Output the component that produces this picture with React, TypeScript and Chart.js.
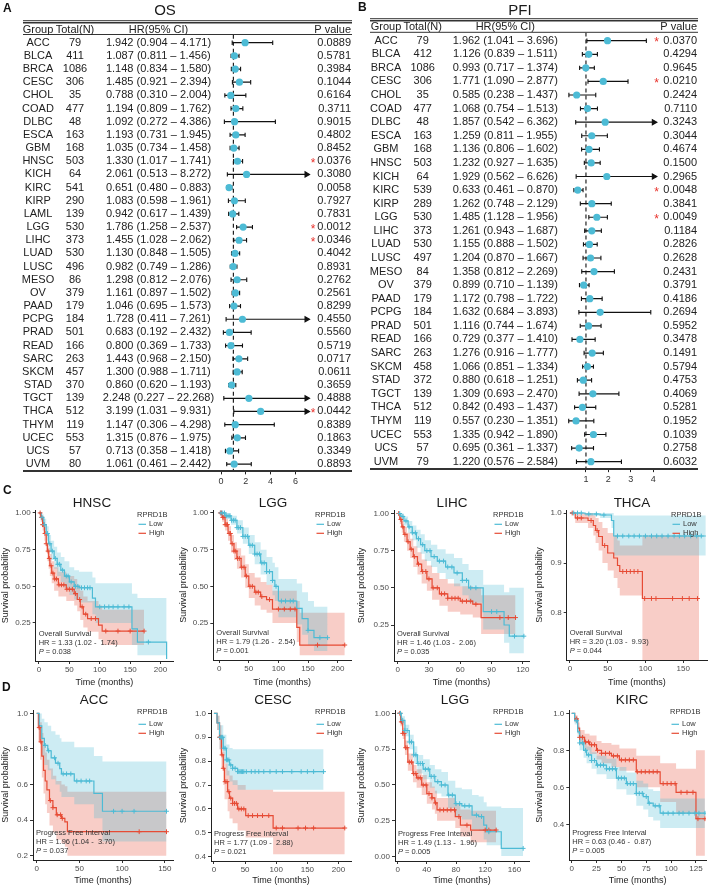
import React, { useEffect, useRef } from 'react';
import { Chart, registerables } from 'chart.js';
Chart.register(...registerables);

const FONT = '"Liberation Sans", Arial, Helvetica, sans-serif';
Chart.defaults.font.family = FONT;

// ---------------- Forest data: OS ----------------
const OS_GROUPS = ['ACC','BLCA','BRCA','CESC','CHOL','COAD','DLBC','ESCA','GBM','HNSC','KICH','KIRC','KIRP','LAML','LGG','LIHC','LUAD','LUSC','MESO','OV','PAAD','PCPG','PRAD','READ','SARC','SKCM','STAD','TGCT','THCA','THYM','UCEC','UCS','UVM'];
const OS_N = [79,411,1086,306,35,477,48,163,168,503,64,541,290,139,530,373,530,496,86,379,179,184,501,166,263,457,370,139,512,119,553,57,80];
const OS_HR = [1.942,1.087,1.148,1.485,0.788,1.194,1.092,1.193,1.035,1.330,2.061,0.651,1.083,0.942,1.786,1.455,1.130,0.982,1.298,1.161,1.046,1.728,0.683,0.800,1.443,1.300,0.860,2.248,3.199,1.147,1.315,0.713,1.061];
const OS_LO = [0.904,0.811,0.834,0.921,0.310,0.809,0.272,0.731,0.734,1.017,0.513,0.480,0.598,0.617,1.258,1.028,0.848,0.749,0.812,0.897,0.695,0.411,0.192,0.369,0.968,0.988,0.620,0.227,1.031,0.306,0.876,0.358,0.461];
const OS_HI = [4.171,1.456,1.580,2.394,2.004,1.762,4.386,1.945,1.458,1.741,8.272,0.883,1.961,1.439,2.537,2.062,1.505,1.286,2.076,1.502,1.573,7.261,2.432,1.733,2.150,1.711,1.193,22.268,9.931,4.298,1.975,1.418,2.442];
const OS_P = [0.0889,0.5781,0.3984,0.1044,0.6164,0.3711,0.9015,0.4802,0.8452,0.0376,0.3080,0.0058,0.7927,0.7831,0.0012,0.0346,0.4042,0.8931,0.2762,0.2561,0.8299,0.4550,0.5560,0.5719,0.0717,0.0611,0.3659,0.4888,0.0442,0.8389,0.1863,0.3349,0.8893];
const OS_STAR = ['HNSC','LGG','LIHC','THCA'];
const OS_XTICKS = [0, 2, 4, 6];

// ---------------- Forest data: PFI ----------------
const PFI_GROUPS = ['ACC','BLCA','BRCA','CESC','CHOL','COAD','DLBC','ESCA','GBM','HNSC','KICH','KIRC','KIRP','LGG','LIHC','LUAD','LUSC','MESO','OV','PAAD','PCPG','PRAD','READ','SARC','SKCM','STAD','TGCT','THCA','THYM','UCEC','UCS','UVM'];
const PFI_N = [79,412,1086,306,35,477,48,163,168,503,64,539,289,530,373,530,497,84,379,179,184,501,166,263,458,372,139,512,119,553,57,79];
const PFI_HR = [1.962,1.126,0.993,1.771,0.585,1.068,1.857,1.259,1.136,1.232,1.929,0.633,1.262,1.485,1.261,1.155,1.204,1.358,0.899,1.172,1.632,1.116,0.729,1.276,1.066,0.880,1.309,0.842,0.557,1.335,0.695,1.220];
const PFI_LO = [1.041,0.839,0.717,1.090,0.238,0.754,0.542,0.811,0.806,0.927,0.562,0.461,0.748,1.128,0.943,0.888,0.870,0.812,0.710,0.798,0.684,0.744,0.377,0.916,0.851,0.618,0.693,0.493,0.230,0.942,0.361,0.576];
const PFI_HI = [3.696,1.511,1.374,2.877,1.437,1.513,6.362,1.955,1.602,1.635,6.626,0.870,2.129,1.956,1.687,1.502,1.667,2.269,1.139,1.722,3.893,1.674,1.410,1.777,1.334,1.251,2.470,1.437,1.351,1.890,1.337,2.584];
const PFI_P = [0.0370,0.4294,0.9645,0.0210,0.2424,0.7110,0.3243,0.3044,0.4674,0.1500,0.2965,0.0048,0.3841,0.0049,0.1184,0.2826,0.2628,0.2431,0.3791,0.4186,0.2694,0.5952,0.3478,0.1491,0.5794,0.4753,0.4069,0.5281,0.1952,0.1039,0.2758,0.6032];
const PFI_STAR = ['ACC','CESC','KIRC','LGG'];
const PFI_XTICKS = [1, 2, 3, 4];

// ---------------- KM data: rows [time, survival, lower, upper] ----------------
const HNSC_LOW = [[0,1,1,1],[4,0.97,0.94,0.99],[8,0.92,0.88,0.96],[12,0.86,0.81,0.91],[16,0.79,0.73,0.85],[20,0.74,0.68,0.81],[25,0.69,0.62,0.77],[30,0.65,0.57,0.73],[36,0.61,0.53,0.70],[42,0.57,0.49,0.67],[50,0.53,0.44,0.63],[58,0.50,0.41,0.61],[66,0.49,0.39,0.60],[88,0.42,0.31,0.56],[93,0.36,0.25,0.52],[153,0.21,0.10,0.45],[162,0.12,0.03,0.42],[209,0.12,0.03,0.42],[210,0.005,0.0,0.42]];
const HNSC_HIGH = [[0,1,1,1],[3,0.97,0.94,0.99],[6,0.92,0.88,0.96],[9,0.86,0.81,0.91],[12,0.79,0.73,0.85],[14,0.74,0.67,0.80],[16,0.69,0.62,0.76],[18,0.64,0.57,0.72],[21,0.59,0.52,0.67],[25,0.55,0.47,0.63],[32,0.51,0.43,0.60],[45,0.48,0.40,0.57],[58,0.45,0.37,0.55],[63,0.41,0.33,0.51],[68,0.36,0.27,0.47],[73,0.31,0.22,0.43],[80,0.28,0.19,0.40],[98,0.235,0.14,0.37],[104,0.195,0.10,0.34],[173,0.195,0.10,0.34]];
const HNSC_LOW_CENS = [5,9,14,18,22,27,31,34,39,45,48,53,60,64,70,75,80,84,100,108,115,122,130,140,148,180];
const HNSC_HIGH_CENS = [2,4,6,8,10,12,15,17,20,23,26,29,33,37,41,46,50,55,60,67,71,77,86,93,110,130,150,173];

const LGGOS_LOW = [[0,1,1,1],[10,0.98,0.96,1],[20,0.95,0.92,0.98],[30,0.90,0.86,0.95],[40,0.84,0.79,0.90],[50,0.78,0.72,0.85],[60,0.72,0.65,0.80],[70,0.66,0.58,0.75],[80,0.60,0.51,0.70],[90,0.54,0.44,0.66],[94,0.50,0.40,0.63],[100,0.40,0.29,0.55],[131,0.35,0.24,0.52],[140,0.28,0.17,0.46],[150,0.20,0.10,0.40],[160,0.15,0.06,0.36],[183,0.15,0.06,0.36]];
const LGGOS_HIGH = [[0,1,1,1],[5,0.97,0.94,0.99],[10,0.92,0.88,0.96],[15,0.86,0.81,0.91],[20,0.79,0.73,0.85],[25,0.74,0.68,0.80],[30,0.69,0.62,0.76],[37,0.63,0.56,0.71],[44,0.57,0.49,0.65],[50,0.50,0.42,0.59],[60,0.46,0.37,0.56],[70,0.43,0.34,0.53],[80,0.41,0.32,0.51],[90,0.345,0.25,0.47],[131,0.22,0.12,0.40],[136,0.10,0.03,0.32],[212,0.10,0.03,0.32]];
const LGGOS_LOW_CENS = [3,6,9,12,15,18,21,24,27,30,33,36,40,44,48,52,56,60,64,68,72,76,80,85,90,96,105,112,120,125,150,170,183];
const LGGOS_HIGH_CENS = [2,4,6,8,10,12,14,17,19,22,25,28,31,34,38,42,46,52,56,62,66,72,85,100,110,120,128,166,212];

const LIHC_LOW = [[0,1,1,1],[3,0.98,0.96,1],[6,0.95,0.92,0.98],[10,0.91,0.87,0.95],[14,0.87,0.82,0.92],[18,0.83,0.77,0.89],[22,0.79,0.73,0.86],[26,0.75,0.68,0.82],[32,0.71,0.64,0.79],[38,0.68,0.60,0.76],[46,0.64,0.56,0.73],[54,0.60,0.51,0.70],[62,0.55,0.45,0.66],[68,0.50,0.40,0.62],[82,0.34,0.22,0.52],[102,0.25,0.13,0.47],[107,0.175,0.06,0.50],[121,0.175,0.06,0.50]];
const LIHC_HIGH = [[0,1,1,1],[2,0.96,0.93,0.99],[4,0.91,0.87,0.95],[6,0.86,0.81,0.91],[9,0.81,0.75,0.87],[12,0.76,0.70,0.83],[15,0.71,0.64,0.78],[19,0.66,0.59,0.74],[23,0.61,0.53,0.69],[28,0.56,0.48,0.65],[33,0.50,0.42,0.60],[40,0.46,0.38,0.56],[48,0.43,0.34,0.53],[60,0.41,0.32,0.51],[72,0.39,0.30,0.50],[80,0.30,0.19,0.45],[113,0.30,0.19,0.45]];
const LIHC_LOW_CENS = [2,5,8,11,14,17,20,24,28,31,35,40,44,48,52,57,62,66,70,75,90,95,112,121];
const LIHC_HIGH_CENS = [1,3,5,7,10,13,16,20,24,27,30,34,38,42,45,48,52,55,58,62,66,70,75,98,106,113];

const THCA_LOW = [[0,1,1,1],[20,0.998,0.994,1],[40,0.996,0.99,1],[55,0.985,0.97,1],[58,0.954,0.915,0.995],[180,0.954,0.913,0.995]];
const THCA_HIGH = [[0,1,1,1],[7,0.99,0.98,1],[24,0.985,0.97,1],[31,0.975,0.955,0.995],[34,0.965,0.94,0.99],[38,0.953,0.925,0.982],[43,0.935,0.90,0.97],[50,0.92,0.885,0.96],[58,0.91,0.87,0.955],[63,0.895,0.85,0.945],[66,0.883,0.835,0.935],[96,0.829,0.65,0.955],[171,0.829,0.65,0.955]];
const THCA_LOW_CENS = [5,10,15,25,35,45,63,70,78,85,92,100,108,115,122,130,138,145,152,160,168,174];
const THCA_HIGH_CENS = [3,10,15,28,36,46,70,75,80,85,90,99,108,114,136,149,158,169];

const ACC_LOW = [[0,1,1,1],[3,0.93,0.85,1],[6,0.86,0.76,0.97],[9,0.82,0.71,0.95],[13,0.79,0.68,0.93],[17,0.75,0.63,0.90],[22,0.72,0.60,0.88],[27,0.69,0.56,0.86],[29,0.66,0.53,0.84],[44,0.62,0.49,0.81],[67,0.55,0.41,0.76],[77,0.45,0.28,0.73],[152,0.45,0.28,0.73]];
const ACC_HIGH = [[0,1,1,1],[2,0.92,0.84,1],[4,0.84,0.74,0.95],[6,0.76,0.64,0.89],[8,0.68,0.55,0.83],[10,0.62,0.49,0.78],[12,0.57,0.44,0.74],[15,0.51,0.37,0.69],[19,0.47,0.33,0.65],[23,0.43,0.29,0.62],[29,0.41,0.27,0.60],[33,0.39,0.25,0.59],[36,0.335,0.20,0.56],[152,0.335,0.20,0.56]];
const ACC_LOW_CENS = [10,14,21,25,31,35,40,47,52,58,62,90,100,114,152];
const ACC_HIGH_CENS = [3,5,16,19,24,28,30,120,152];

const CESC_LOW = [[0,1,1,1],[5,0.96,0.93,0.99],[9,0.90,0.85,0.95],[15,0.854,0.79,0.91],[20,0.805,0.74,0.87],[25,0.784,0.715,0.855],[30,0.77,0.70,0.85],[38,0.756,0.68,0.85],[176,0.756,0.67,0.85]];
const CESC_HIGH = [[0,1,1,1],[5,0.96,0.93,0.99],[9,0.90,0.85,0.95],[12,0.826,0.77,0.89],[15,0.77,0.70,0.84],[17,0.714,0.64,0.79],[22,0.672,0.59,0.76],[25,0.645,0.56,0.74],[30,0.623,0.54,0.72],[38,0.60,0.51,0.70],[51,0.572,0.48,0.68],[95,0.52,0.41,0.672],[210,0.52,0.41,0.672]];
const CESC_LOW_CENS = [10,12,14,16,18,20,22,24,27,30,34,38,40,42,44,46,48,52,60,66,72,80,90,100,110,125,140,150,160,176];
const CESC_HIGH_CENS = [9,11,13,15,18,21,24,27,30,33,36,40,44,48,55,62,70,78,88,100,110,135,147,160,210];

const LGGPFI_LOW = [[0,1,1,1],[5,0.95,0.92,0.98],[10,0.88,0.84,0.92],[16,0.80,0.75,0.85],[22,0.71,0.65,0.77],[27,0.65,0.58,0.71],[35,0.61,0.54,0.68],[44,0.56,0.48,0.64],[51,0.523,0.44,0.61],[60,0.50,0.42,0.59],[69,0.43,0.34,0.53],[79,0.37,0.28,0.48],[88,0.355,0.26,0.47],[102,0.29,0.19,0.43],[111,0.28,0.18,0.42],[118,0.22,0.12,0.38],[122,0.174,0.08,0.35],[142,0.058,0.005,0.34],[172,0.058,0.005,0.34]];
const LGGPFI_HIGH = [[0,1,1,1],[4,0.94,0.91,0.97],[7,0.86,0.82,0.90],[10,0.76,0.71,0.81],[14,0.66,0.60,0.72],[21,0.58,0.52,0.64],[26,0.55,0.48,0.61],[33,0.50,0.43,0.57],[40,0.44,0.37,0.52],[47,0.41,0.33,0.49],[51,0.375,0.30,0.46],[54,0.326,0.25,0.41],[79,0.28,0.20,0.37],[86,0.22,0.14,0.33],[100,0.186,0.10,0.32],[135,0.186,0.10,0.32]];
const LGGPFI_LOW_CENS = [4,7,10,13,16,19,22,25,28,31,34,38,42,46,50,55,60,65,70,75,80,85,92,98,108,115,125,172];
const LGGPFI_HIGH_CENS = [3,5,7,9,11,13,16,19,22,25,28,31,35,39,43,47,52,58,63,68,73,78,84,95,120,125,135];

const KIRC_LOW = [[0,1,1,1],[3,0.96,0.94,0.98],[6,0.90,0.87,0.93],[8,0.84,0.80,0.88],[12,0.80,0.76,0.84],[15,0.775,0.73,0.82],[20,0.745,0.70,0.79],[25,0.72,0.67,0.77],[35,0.70,0.645,0.755],[45,0.65,0.59,0.71],[55,0.62,0.56,0.68],[65,0.567,0.50,0.635],[72,0.55,0.48,0.62],[77,0.514,0.44,0.59],[82,0.50,0.42,0.58],[89,0.46,0.38,0.54],[134,0.46,0.37,0.54]];
const KIRC_HIGH = [[0,1,1,1],[3,0.97,0.95,0.99],[6,0.92,0.89,0.95],[8,0.87,0.83,0.91],[13,0.845,0.80,0.89],[18,0.83,0.78,0.88],[25,0.80,0.75,0.85],[30,0.784,0.73,0.84],[40,0.77,0.71,0.83],[48,0.748,0.69,0.81],[65,0.684,0.60,0.77],[89,0.62,0.52,0.73],[105,0.573,0.46,0.70],[125,0.43,0.23,0.80],[134,0.43,0.23,0.80]];
const KIRC_LOW_CENS = [5,8,11,14,17,20,23,26,29,32,35,38,41,44,47,50,53,56,59,62,65,68,71,75,78,84,88,92,97,102,108,112,118,124,128,134];
const KIRC_HIGH_CENS = [5,8,11,14,17,20,23,26,30,34,38,42,46,50,54,58,62,66,70,74,78,82,86,92,96,100,104,110,116,122,127,134];

const KM_TEXT = [
  { title: 'HNSC', endpoint: 'Overall Survival', hr: 'HR = 1.33 (1.02 -  1.74)', p: '0.038' },
  { title: 'LGG', endpoint: 'Overall Survival', hr: 'HR = 1.79 (1.26 -  2.54)', p: '0.001' },
  { title: 'LIHC', endpoint: 'Overall Survival', hr: 'HR = 1.46 (1.03 -  2.06)', p: '0.035' },
  { title: 'THCA', endpoint: 'Overall Survival', hr: 'HR = 3.20 (1.03 -  9.93)', p: '0.044' },
  { title: 'ACC', endpoint: 'Progress Free Interval', hr: 'HR = 1.96 (1.04 -  3.70)', p: '0.037' },
  { title: 'CESC', endpoint: 'Progress Free Interval', hr: 'HR = 1.77 (1.09 -  2.88)', p: '0.021' },
  { title: 'LGG', endpoint: 'Progress Free Interval', hr: 'HR = 1.49 (1.13 -  1.96)', p: '0.005' },
  { title: 'KIRC', endpoint: 'Progress Free Interval', hr: 'HR = 0.63 (0.46 -  0.87)', p: '0.005' },
];
const KM_XTICKS = [[0,50,100,150,200],[0,50,100,150,200],[0,30,60,90,120],[0,50,100,150],[0,50,100,150],[0,50,100,150,200],[0,40,80,120,160],[0,25,50,75,100,125]];
const KM_YTICKS = [[0.25,0.5,0.75,1],[0.25,0.5,0.75,1],[0.25,0.5,0.75,1],[0.8,0.9,1],[0.2,0.4,0.6,0.8,1],[0.4,0.5,0.6,0.7,0.8,0.9,1],[0,0.25,0.5,0.75,1],[0.4,0.6,0.8,1]];
const KM_YDEC = [2,2,2,1,1,1,2,1];
const LEGEND_TITLE = 'RPRD1B';
const LEGEND_LABELS = ['Low', 'High'];

const BLUE = '#4DBBD5';
const RED = '#E64B35';
const BLUE_BAND = 'rgba(77,187,213,0.28)';
const RED_BAND = 'rgba(230,75,53,0.28)';

// ---------------- layout (page px) ----------------
const KM_LAYOUT = [
  { pos: [0, 490], area: [35.7, 175.7, 510, 661], x: [-5.3, 220.5], y: [-0.009, 1.02], titleX: 92, titleY: 503, legY: [515, 524.3, 533.3] },
  { pos: [178, 490], area: [213.3, 353.6, 510, 660], x: [-9.9, 222.5], y: [-0.002, 1.02], titleX: 273, titleY: 503, legY: [515, 524.3, 533.3] },
  { pos: [356, 490], area: [394, 532, 510, 661], x: [-3.5, 125.9], y: [0.008, 1.0235], titleX: 452, titleY: 503, legY: [515, 524.3, 533.3] },
  { pos: [534, 490], area: [566.7, 708, 510, 660], x: [-4.3, 181.6], y: [0.706, 1.006], titleX: 632, titleY: 503, legY: [515, 524.3, 533.3] },
  { pos: [0, 688], area: [33, 175, 710, 860], x: [-4.3, 159.6], y: [0.176, 1.019], titleX: 94, titleY: 700, legY: [711.7, 724.3, 733.3] },
  { pos: [178, 688], area: [211, 354.5, 710, 861], x: [-4.7, 220], y: [0.382, 1.014], titleX: 273, titleY: 700, legY: [711.7, 724.3, 733.3] },
  { pos: [356, 688], area: [395, 531.6, 710, 861], x: [-3.6, 180], y: [-0.03, 1.023], titleX: 455, titleY: 700, legY: [711.7, 724.3, 733.3] },
  { pos: [534, 688], area: [569.3, 706, 710, 860], x: [-2.4, 135.1], y: [0.207, 1.018], titleX: 632, titleY: 700, legY: [711.7, 724.3, 733.3] },
];
const KM_CURVES = [
  [HNSC_LOW, HNSC_HIGH, HNSC_LOW_CENS, HNSC_HIGH_CENS],
  [LGGOS_LOW, LGGOS_HIGH, LGGOS_LOW_CENS, LGGOS_HIGH_CENS],
  [LIHC_LOW, LIHC_HIGH, LIHC_LOW_CENS, LIHC_HIGH_CENS],
  [THCA_LOW, THCA_HIGH, THCA_LOW_CENS, THCA_HIGH_CENS],
  [ACC_LOW, ACC_HIGH, ACC_LOW_CENS, ACC_HIGH_CENS],
  [CESC_LOW, CESC_HIGH, CESC_LOW_CENS, CESC_HIGH_CENS],
  [LGGPFI_LOW, LGGPFI_HIGH, LGGPFI_LOW_CENS, LGGPFI_HIGH_CENS],
  [KIRC_LOW, KIRC_HIGH, KIRC_LOW_CENS, KIRC_HIGH_CENS],
];
const KM_W = 178, KM_H = 198;

const OS_SPEC = {
  title: 'OS', groups: OS_GROUPS, n: OS_N, hr: OS_HR, lo: OS_LO, hi: OS_HI, p: OS_P, star: OS_STAR, xTicks: OS_XTICKS,
  left: 0, W: 355, H: 490, titleX: 165, titleY: 11, ruleX0: 23, ruleX1: 352, ruleTop: 22, ruleHead: 34.5, ruleBottom: 471,
  headY: 29.5, colGroup: 38, colN: 75, colHR: 158.5, colP: 351, colStar: 313,
  xMin: -0.242, xMax: 7.34, clip: 6.9, yMin: -0.6, yMax: 32.55, rowH: 13.17, padLeft: 218, padRight: 43, padTop: 34.8,
};
const PFI_SPEC = {
  title: 'PFI', groups: PFI_GROUPS, n: PFI_N, hr: PFI_HR, lo: PFI_LO, hi: PFI_HI, p: PFI_P, star: PFI_STAR, xTicks: PFI_XTICKS,
  left: 355, W: 355, H: 490, titleX: 165, titleY: 11, ruleX0: 15, ruleX1: 343, ruleTop: 20, ruleHead: 32.3, ruleBottom: 469,
  headY: 26.5, colGroup: 31, colN: 67.7, colHR: 150.3, colP: 342, colStar: 301.7,
  xMin: 0.1, xMax: 4.3, clip: 4.03, yMin: -0.6, yMax: 31.55, rowH: 13.58, padLeft: 210.8, padRight: 50.1, padTop: 32.55,
};

function forestPlugin(s: any) {
  return {
    id: 'forestTable',
    afterDraw(chart: any) {
      const ctx = chart.ctx;
      const ys = chart.scales.y;
      ctx.save();
      ctx.textBaseline = 'middle';
      ctx.fillStyle = '#1a1a1a';
      ctx.font = `15px ${FONT}`;
      ctx.textAlign = 'center';
      ctx.fillText(s.title, s.titleX, s.titleY);
      ctx.strokeStyle = '#333';
      const hl = (y: number, w: number) => {
        ctx.lineWidth = w;
        ctx.beginPath();
        ctx.moveTo(s.ruleX0, y);
        ctx.lineTo(s.ruleX1, y);
        ctx.stroke();
      };
      hl(s.ruleTop - 1.3, 1);
      hl(s.ruleTop + 0.7, 1.5);
      hl(s.ruleHead, 1);
      hl(s.ruleBottom, 2);
      ctx.fillStyle = '#222';
      ctx.font = `11px ${FONT}`;
      ctx.textAlign = 'center';
      ctx.fillText('Group', s.colGroup, s.headY);
      ctx.fillText('Total(N)', s.colN, s.headY);
      ctx.fillText('HR(95% CI)', s.colHR, s.headY);
      ctx.textAlign = 'right';
      ctx.fillText('P value', s.colP, s.headY);
      s.groups.forEach((g: string, i: number) => {
        const y = ys.getPixelForValue(i);
        ctx.fillStyle = '#222';
        ctx.font = `11px ${FONT}`;
        ctx.textBaseline = 'middle';
        ctx.textAlign = 'center';
        ctx.fillText(g, s.colGroup, y);
        ctx.fillText(String(s.n[i]), s.colN, y);
        ctx.fillText(`${s.hr[i].toFixed(3)} (${s.lo[i].toFixed(3)} \u2013 ${s.hi[i].toFixed(3)})`, s.colHR, y);
        ctx.textAlign = 'right';
        ctx.fillText(s.p[i].toFixed(4), s.colP, y);
        if (s.star.includes(g)) {
          ctx.fillStyle = '#E8312B';
          ctx.font = `12px ${FONT}`;
          ctx.textAlign = 'center';
          ctx.textBaseline = 'alphabetic';
          ctx.fillText('*', s.colStar, y + 5.5);
        }
      });
      ctx.restore();
    },
  };
}

function Forest({ s }: any) {
  const ref = useRef<HTMLCanvasElement>(null);
  useEffect(() => {
    const bottom = s.padTop + (s.yMax - s.yMin) * s.rowH;
    const xAxisH = s.H - bottom;
    const ci = s.groups.map((g: string, i: number) => {
      const arrow = s.hi[i] > s.clip;
      return {
        data: [{ x: s.lo[i], y: i }, { x: arrow ? s.clip : s.hi[i], y: i }],
        showLine: true, borderColor: '#111', borderWidth: 1.2,
        pointStyle: ['line', arrow ? 'triangle' : 'line'],
        rotation: 90, pointRotation: 90,
        pointRadius: [2.2, arrow ? 3 : 2.2],
        pointBorderColor: '#111', pointBackgroundColor: '#111', pointBorderWidth: 1.1,
        order: 1,
      };
    });
    const chart = new Chart(ref.current as HTMLCanvasElement, {
      type: 'scatter',
      data: {
        datasets: [
          { data: s.hr.map((v: number, i: number) => ({ x: v, y: i })), pointRadius: 3.6, pointBackgroundColor: '#4DBBD5', pointBorderWidth: 0, order: 0 },
          ...ci,
          { data: [{ x: 1, y: s.yMin }, { x: 1, y: s.yMax }], showLine: true, borderColor: '#222', borderWidth: 1.2, borderDash: [4, 3], pointRadius: 0, order: 2 },
        ],
      } as any,
      options: {
        animation: false, responsive: false, devicePixelRatio: 1, events: [],
        layout: { padding: { left: s.padLeft, right: s.padRight, top: s.padTop, bottom: 0 } },
        plugins: { legend: { display: false }, tooltip: { enabled: false } },
        scales: {
          x: {
            type: 'linear', min: s.xMin, max: s.xMax,
            afterBuildTicks: (sc: any) => { sc.ticks = s.xTicks.map((v: number) => ({ value: v })); },
            afterFit: (sc: any) => { sc.height = xAxisH; },
            grid: { display: true, drawOnChartArea: false, drawTicks: true, tickLength: 3, color: '#222' },
            border: { display: false },
            ticks: { font: { size: 9 }, color: '#333', padding: 2, maxRotation: 0, autoSkip: false },
          },
          y: { type: 'linear', display: false, reverse: true, min: s.yMin, max: s.yMax },
        },
      } as any,
      plugins: [forestPlugin(s)],
    });
    return () => chart.destroy();
  }, []);
  return <canvas ref={ref} width={s.W} height={s.H} style={{ position: 'absolute', left: s.left, top: 0, width: s.W, height: s.H }} />;
}

function stepAt(curve: number[][], t: number) {
  let v = curve[0][1];
  for (const r of curve) if (r[0] <= t) v = r[1];
  return v;
}

function curveSets(curve: number[][], cens: number[], color: string, band: string) {
  return [
    { data: curve.map(r => ({ x: r[0], y: r[3] })), stepped: true, borderColor: 'rgba(0,0,0,0)', borderWidth: 0, pointRadius: 0, fill: '+1', backgroundColor: band, order: 3 },
    { data: curve.map(r => ({ x: r[0], y: r[2] })), stepped: true, borderColor: 'rgba(0,0,0,0)', borderWidth: 0, pointRadius: 0, fill: false, order: 3 },
    { data: curve.map(r => ({ x: r[0], y: r[1] })), stepped: true, borderColor: color, borderWidth: 1.2, pointRadius: 0, fill: false, order: 1 },
    { data: cens.map(t => ({ x: t, y: stepAt(curve, t) })), showLine: false, pointStyle: 'cross', pointRadius: 2.4, pointBorderColor: color, pointBorderWidth: 1, order: 0 },
  ];
}

function kmPlugin(txt: any, loc: any) {
  return {
    id: 'kmText',
    afterDraw(chart: any) {
      const ctx = chart.ctx;
      const a = chart.chartArea;
      ctx.save();
      ctx.textBaseline = 'middle';
      ctx.fillStyle = '#1a1a1a';
      ctx.font = `13.5px ${FONT}`;
      ctx.textAlign = 'center';
      ctx.fillText(txt.title, loc.titleX, loc.titleY);
      const lx = a.right - 36;
      ctx.font = `7.5px ${FONT}`;
      ctx.textAlign = 'left';
      ctx.fillStyle = '#333';
      ctx.fillText(LEGEND_TITLE, lx, loc.legY[0]);
      const cols = [BLUE, RED];
      LEGEND_LABELS.forEach((lab, k) => {
        const y = loc.legY[k + 1];
        ctx.strokeStyle = cols[k];
        ctx.lineWidth = 1.2;
        ctx.beginPath();
        ctx.moveTo(lx + 1.5, y);
        ctx.lineTo(lx + 9, y);
        ctx.stroke();
        ctx.fillText(lab, lx + 12, y);
      });
      const ax = a.left + 3;
      ctx.fillStyle = '#333';
      ctx.fillText(txt.endpoint, ax, a.bottom - 27.5);
      ctx.fillText(txt.hr, ax, a.bottom - 18.5);
      ctx.font = `italic 7.5px ${FONT}`;
      ctx.fillText('P', ax, a.bottom - 9.5);
      const pw = ctx.measureText('P').width;
      ctx.font = `7.5px ${FONT}`;
      ctx.fillText(' = ' + txt.p, ax + pw, a.bottom - 9.5);
      ctx.restore();
    },
  };
}

function KM({ idx }: { idx: number }) {
  const ref = useRef<HTMLCanvasElement>(null);
  const lay = KM_LAYOUT[idx];
  useEffect(() => {
    const [px, py] = lay.pos;
    const L = lay.area[0] - px, R = lay.area[1] - px, T = lay.area[2] - py, B = lay.area[3] - py;
    const loc = { titleX: lay.titleX - px, titleY: lay.titleY - py, legY: lay.legY.map(v => v - py) };
    const [low, high, lowC, highC] = KM_CURVES[idx] as any;
    const dec = KM_YDEC[idx];
    const chart = new Chart(ref.current as HTMLCanvasElement, {
      type: 'line',
      data: { datasets: [...curveSets(low, lowC, BLUE, BLUE_BAND), ...curveSets(high, highC, RED, RED_BAND)] } as any,
      options: {
        animation: false, responsive: false, devicePixelRatio: 1, events: [],
        layout: { padding: { left: 0, right: KM_W - R, top: T, bottom: 0 } },
        plugins: { legend: { display: false }, tooltip: { enabled: false } },
        scales: {
          x: {
            type: 'linear', min: lay.x[0], max: lay.x[1],
            afterBuildTicks: (sc: any) => { sc.ticks = KM_XTICKS[idx].map(v => ({ value: v })); },
            afterFit: (sc: any) => { sc.height = KM_H - B; },
            grid: { display: true, drawOnChartArea: false, drawTicks: true, tickLength: 3, color: '#333' },
            border: { display: true, color: '#222', width: 1 },
            ticks: { font: { size: 8 }, color: '#4d4d4d', padding: 1, maxRotation: 0, minRotation: 0, autoSkip: false },
            title: { display: true, text: 'Time (months)', font: { size: 9 }, color: '#222', padding: 0 },
          },
          y: {
            type: 'linear', min: lay.y[0], max: lay.y[1],
            afterBuildTicks: (sc: any) => { sc.ticks = KM_YTICKS[idx].map(v => ({ value: v })); },
            afterFit: (sc: any) => { sc.width = L; },
            grid: { display: true, drawOnChartArea: false, drawTicks: true, tickLength: 3, color: '#333' },
            border: { display: true, color: '#222', width: 1 },
            ticks: { font: { size: 8 }, color: '#4d4d4d', padding: 2, autoSkip: false, callback: (v: any) => Number(v).toFixed(dec) },
            title: { display: true, text: 'Survival probability', font: { size: 9 }, color: '#222', padding: 0 },
          },
        },
      } as any,
      plugins: [kmPlugin(KM_TEXT[idx], loc)],
    });
    return () => chart.destroy();
  }, []);
  return <canvas ref={ref} width={KM_W} height={KM_H} style={{ position: 'absolute', left: lay.pos[0], top: lay.pos[1], width: KM_W, height: KM_H }} />;
}

const LETTERS = [
  { t: 'A', x: 3, y: 1.5 },
  { t: 'B', x: 358, y: 0.5 },
  { t: 'C', x: 3, y: 483.5 },
  { t: 'D', x: 2, y: 680.5 },
];

export default function App() {
  return (
    <div style={{ position: 'absolute', left: 0, top: 0, width: 710, height: 888, background: '#fff', overflow: 'hidden', fontFamily: FONT }}>
      <Forest s={OS_SPEC} />
      <Forest s={PFI_SPEC} />
      {KM_LAYOUT.map((_, i) => <KM key={i} idx={i} />)}
      {LETTERS.map(l => (
        <div key={l.t} style={{ position: 'absolute', left: l.x, top: l.y, fontSize: 12, lineHeight: '12px', fontWeight: 'bold', color: '#111', fontFamily: FONT }}>{l.t}</div>
      ))}
    </div>
  );
}
